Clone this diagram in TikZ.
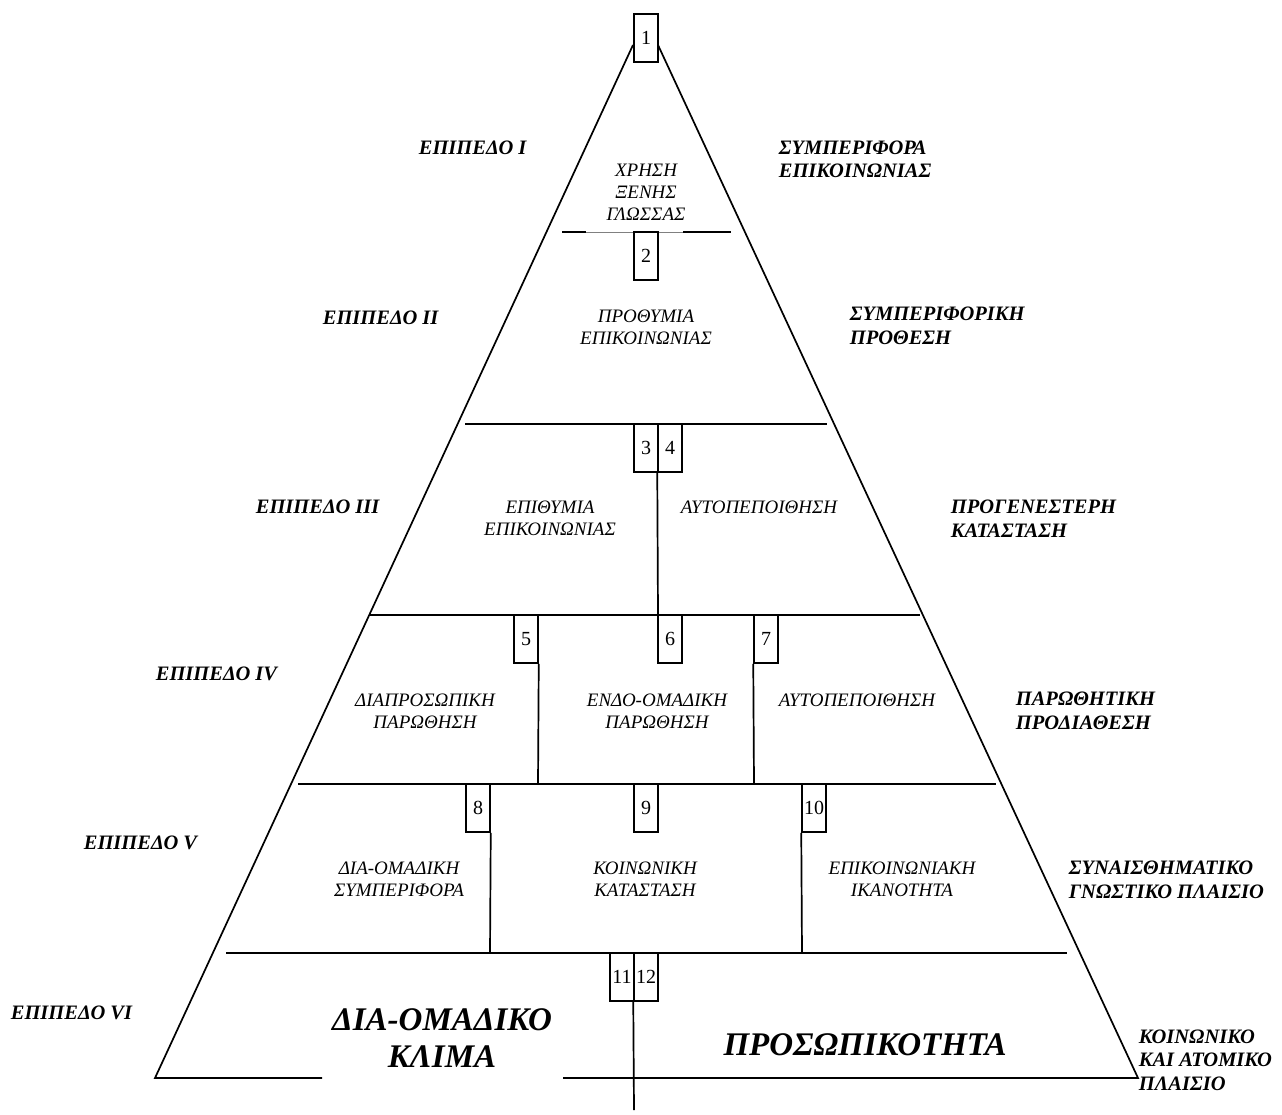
\documentclass[tikz,border=0pt]{standalone}
\usepackage{fontspec}
\setmainfont{Liberation Serif}
\usepackage{tikz}
\usetikzlibrary{positioning,calc}

\begin{document}
\begin{tikzpicture}[x=1pt,y=-1pt,line width=1.7pt,
  numbox/.style={draw,line width=1.5pt,minimum width=24,minimum height=48,inner sep=0pt,font=\fontsize{20}{22}\selectfont},
  facet/.style={align=center,anchor=base,inner sep=0pt,font=\fontsize{19}{22}\selectfont\itshape},
  level/.style={align=left,anchor=base west,inner sep=0pt,font=\fontsize{20.5}{23.5}\selectfont\bfseries\itshape},
  bigtext/.style={align=center,anchor=base,inner sep=0pt,font=\fontsize{33}{37}\selectfont\bfseries\itshape}
]
\useasboundingbox (0,0) rectangle (1282,1115);
\coordinate (topL) at (633,45);
\coordinate (topR) at (658,45);
\coordinate (botL) at (155,1078);
\coordinate (botR) at (1138,1078);
\draw (topL) -- (botL) -- (322,1078);
\draw (topR) -- (botR) -- (563,1078);
\draw (562,232) -- (586,232);
\draw[line width=0.6pt,gray] (586,232) -- (683,232);
\draw (683,232) -- (731,232);
\draw (465,424) -- (827,424);
\draw (370,615) -- (920,615);
\draw (298,784) -- (996,784);
\draw (226,953) -- (1067,953);
\node[numbox] (n1) at (646,38) {1};
\node[numbox] (n2) at (646,256) {2};
\node[numbox] (n3) at (646,448) {3};
\node[numbox] (n4) at (670,448) {4};
\node[numbox] (n5) at (526,639) {5};
\node[numbox] (n6) at (670,639) {6};
\node[numbox] (n7) at (766,639) {7};
\node[numbox] (n8) at (478,808) {8};
\node[numbox] (n9) at (646,808) {9};
\node[numbox] (n10) at (814,808) {10};
\node[numbox] (n11) at (622,977) {11};
\node[numbox] (n12) at (646,977) {12};
\draw (n4.south west) -- (658,615);
\draw (n5.south east) -- (538,784);
\draw (n7.south west) -- (754,784);
\draw (n8.south east) -- (490,953);
\draw (n10.south west) -- (802,953);
\draw (n12.south west) -- (634,1110);
\node[facet] (xrisi) at (646,221) {ΧΡΗΣΗ\\ΞΕΝΗΣ\\ΓΛΩΣΣΑΣ};
\node[facet] (prothymia) at (646,344) {ΠΡΟΘΥΜΙΑ\\ΕΠΙΚΟΙΝΩΝΙΑΣ};
\node[facet] (epithymia) at (550,535) {ΕΠΙΘΥΜΙΑ\\ΕΠΙΚΟΙΝΩΝΙΑΣ};
\node[facet] (aytopA) at (759,513) {ΑΥΤΟΠΕΠΟΙΘΗΣΗ};
\node[facet] (diaprosopiki) at (425,728) {ΔΙΑΠΡΟΣΩΠΙΚΗ\\ΠΑΡΩΘΗΣΗ};
\node[facet] (endoomadiki) at (657,728) {ΕΝΔΟ-ΟΜΑΔΙΚΗ\\ΠΑΡΩΘΗΣΗ};
\node[facet] (aytopB) at (857,706) {ΑΥΤΟΠΕΠΟΙΘΗΣΗ};
\node[facet] (diaomadiki) at (399,896) {ΔΙΑ-ΟΜΑΔΙΚΗ\\ΣΥΜΠΕΡΙΦΟΡΑ};
\node[facet] (koinoniki) at (645,896) {ΚΟΙΝΩΝΙΚΗ\\ΚΑΤΑΣΤΑΣΗ};
\node[facet] (ikanotita) at (902,896) {ΕΠΙΚΟΙΝΩΝΙΑΚΗ\\ΙΚΑΝΟΤΗΤΑ};
\node[bigtext] (klima) at (442,1067) {ΔΙΑ-ΟΜΑΔΙΚΟ\\ΚΛΙΜΑ};
\node[bigtext] (prosopikotita) at (865,1055) {ΠΡΟΣΩΠΙΚΟΤΗΤΑ};
\node[level] (lvI) at (418,155) {ΕΠΙΠΕΔΟ I};
\node[level] (lvII) at (322,324) {ΕΠΙΠΕΔΟ II};
\node[level] (lvIII) at (255,513) {ΕΠΙΠΕΔΟ III};
\node[level] (lvIV) at (155,680) {ΕΠΙΠΕΔΟ IV};
\node[level] (lvV) at (83,849) {ΕΠΙΠΕΔΟ V};
\node[level] (lvVI) at (10,1019) {ΕΠΙΠΕΔΟ VI};
\node[level] (rI) at (778,178) {ΣΥΜΠΕΡΙΦΟΡΑ\\ΕΠΙΚΟΙΝΩΝΙΑΣ};
\node[level] (rII) at (849,344) {ΣΥΜΠΕΡΙΦΟΡΙΚΗ\\ΠΡΟΘΕΣΗ};
\node[level] (rIII) at (950,537) {ΠΡΟΓΕΝΕΣΤΕΡΗ\\ΚΑΤΑΣΤΑΣΗ};
\node[level] (rIV) at (1015,729) {ΠΑΡΩΘΗΤΙΚΗ\\ΠΡΟΔΙΑΘΕΣΗ};
\node[level] (rV) at (1068,898) {ΣΥΝΑΙΣΘΗΜΑΤΙΚΟ\\ΓΝΩΣΤΙΚΟ ΠΛΑΙΣΙΟ};
\node[level] (rVI) at (1138,1090) {ΚΟΙΝΩΝΙΚΟ\\ΚΑΙ ΑΤΟΜΙΚΟ\\ΠΛΑΙΣΙΟ};
\end{tikzpicture}
\end{document}
